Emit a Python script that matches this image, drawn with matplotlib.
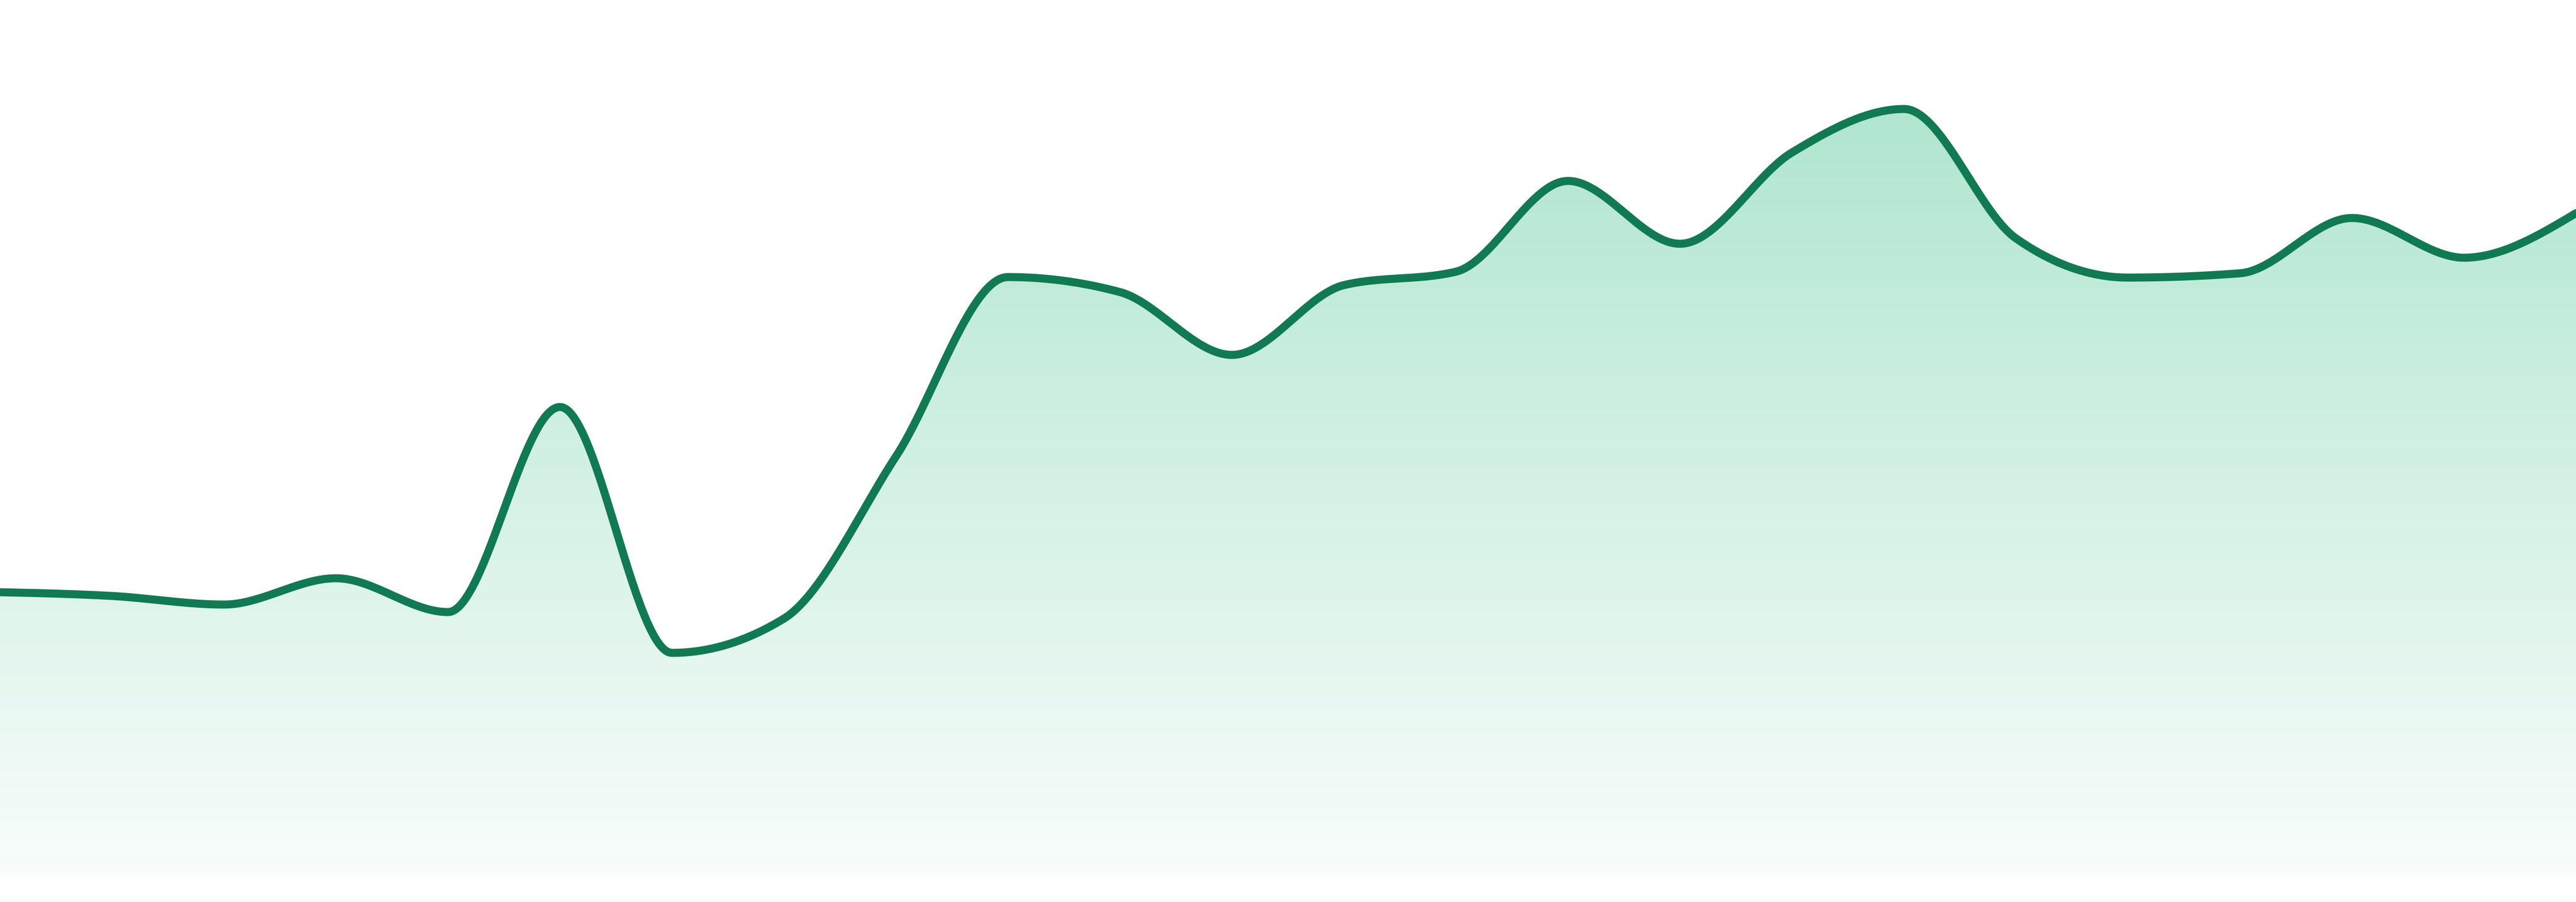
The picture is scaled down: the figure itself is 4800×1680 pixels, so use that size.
import numpy as np
import matplotlib

matplotlib.use("Agg")
import matplotlib.pyplot as plt
from matplotlib.colors import LinearSegmentedColormap

# ---- data (24 evenly spaced samples) ----
idx = list(range(24))
values = [
    52.9, 52.2, 50.6, 55.5, 49.2, 87.4, 41.6, 48.0,
    78.2, 111.6, 108.8, 97.1, 110.1, 112.6, 129.5, 117.8,
    134.8, 142.9, 118.8, 111.5, 112.3, 122.6, 115.2, 123.5,
]

LINE_COLOR = "#117a52"
FILL_TOP = "#b0e6d0"
FILL_BOTTOM = "#f9fdfb"


def monotone_x(x, y, steps=60):
    """d3.curveMonotoneX style smoothing through the given points."""
    x = np.asarray(x, float)
    y = np.asarray(y, float)
    n = len(x)
    s = np.diff(y) / np.diff(x)
    h = np.diff(x)
    t = np.zeros(n)
    for i in range(1, n - 1):
        s0, s1 = s[i - 1], s[i]
        p = (s0 * h[i] + s1 * h[i - 1]) / (h[i - 1] + h[i])
        t[i] = (np.sign(s0) + np.sign(s1)) * min(abs(s0), abs(s1), 0.5 * abs(p))
    t[0] = (3 * s[0] - t[1]) / 2
    t[-1] = (3 * s[-1] - t[-2]) / 2

    xs, ys = [], []
    u = np.linspace(0, 1, steps)
    for i in range(n - 1):
        dx = (x[i + 1] - x[i]) / 3
        p0 = np.array([x[i], y[i]])
        p1 = np.array([x[i] + dx, y[i] + dx * t[i]])
        p2 = np.array([x[i + 1] - dx, y[i + 1] - dx * t[i + 1]])
        p3 = np.array([x[i + 1], y[i + 1]])
        uu = u if i == 0 else u[1:]
        b = ((1 - uu) ** 3)[:, None] * p0 + (3 * (1 - uu) ** 2 * uu)[:, None] * p1 \
            + (3 * (1 - uu) * uu ** 2)[:, None] * p2 + (uu ** 3)[:, None] * p3
        xs.append(b[:, 0])
        ys.append(b[:, 1])
    return np.concatenate(xs), np.concatenate(ys)


fig = plt.figure(figsize=(16, 5.6), dpi=300)
ax = fig.add_axes([0, 0, 1, 1])
ax.set_xlim(0, 23)
ax.set_ylim(-4.8, 163.2)
ax.axis("off")

cx, cy = monotone_x(idx, values)

# gradient area under the curve
area = ax.fill_between(cx, cy, 0, color="none", lw=0)
cmap = LinearSegmentedColormap.from_list("fade", [FILL_BOTTOM, FILL_TOP])
grad = np.linspace(0, 1, 256).reshape(-1, 1)
top = max(values)
img = ax.imshow(grad, cmap=cmap, aspect="auto", origin="lower",
                extent=[0, 23, 0, top], zorder=1)
path = area.get_paths()[0]
img.set_clip_path(path, transform=ax.transData)

ax.plot(cx, cy, color=LINE_COLOR, lw=3.6, solid_joinstyle="round",
        solid_capstyle="round", zorder=3)

ax.set_xlim(0, 23)
ax.set_ylim(-4.8, 163.2)

fig.savefig("out.png", dpi=300, facecolor="white")
